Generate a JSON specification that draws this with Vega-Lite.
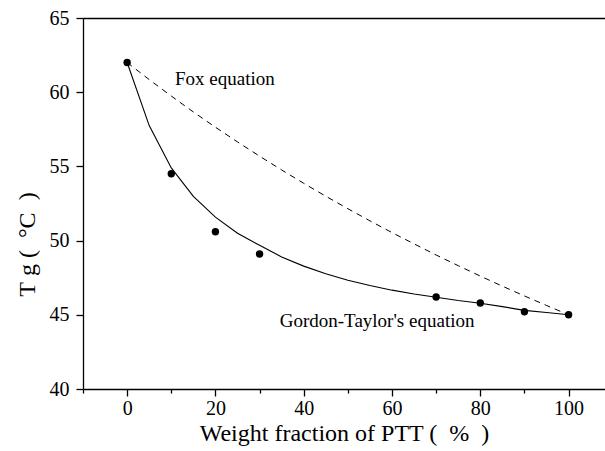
{
  "$schema": "https://vega.github.io/schema/vega-lite/v6.json",
  "width": 522,
  "height": 371,
  "autosize": {"type": "none"},
  "padding": {"left": 83, "top": 18, "right": 0, "bottom": 62},
  "background": "white",
  "config": {
    "view": {"stroke": null},
    "font": "Liberation Serif",
    "text": {"font": "Liberation Serif"},
    "axis": {
      "domainColor": "black",
      "domainWidth": 1.3,
      "tickColor": "black",
      "tickWidth": 1.3,
      "labelColor": "black",
      "titleColor": "black",
      "labelFont": "Liberation Serif",
      "titleFont": "Liberation Serif",
      "labelFontSize": 20,
      "titleFontSize": 24,
      "titleFontWeight": "normal",
      "grid": false
    }
  },
  "datasets": {
    "pts": [
      {"w": 0, "tg": 62.0},
      {"w": 10, "tg": 54.5},
      {"w": 20, "tg": 50.6},
      {"w": 30, "tg": 49.1},
      {"w": 70, "tg": 46.2},
      {"w": 80, "tg": 45.8},
      {"w": 90, "tg": 45.2},
      {"w": 100, "tg": 45.0}
    ],
    "gt": [
      {"w": 0, "tg": 62.0},
      {"w": 5, "tg": 57.75},
      {"w": 10, "tg": 54.9},
      {"w": 15, "tg": 52.98},
      {"w": 20, "tg": 51.58},
      {"w": 25, "tg": 50.5},
      {"w": 30, "tg": 49.68},
      {"w": 35, "tg": 48.9},
      {"w": 40, "tg": 48.28},
      {"w": 45, "tg": 47.77},
      {"w": 50, "tg": 47.33},
      {"w": 55, "tg": 46.97},
      {"w": 60, "tg": 46.66},
      {"w": 65, "tg": 46.4},
      {"w": 70, "tg": 46.18},
      {"w": 75, "tg": 45.96},
      {"w": 80, "tg": 45.78},
      {"w": 85, "tg": 45.55},
      {"w": 90, "tg": 45.3},
      {"w": 95, "tg": 45.15},
      {"w": 100, "tg": 45.0}
    ],
    "fox": [
      {"w": 0, "tg": 62.0},
      {"w": 5, "tg": 60.85},
      {"w": 10, "tg": 59.74},
      {"w": 15, "tg": 58.67},
      {"w": 20, "tg": 57.64},
      {"w": 25, "tg": 56.65},
      {"w": 30, "tg": 55.69},
      {"w": 35, "tg": 54.76},
      {"w": 40, "tg": 53.86},
      {"w": 45, "tg": 52.99},
      {"w": 50, "tg": 52.15},
      {"w": 55, "tg": 51.33},
      {"w": 60, "tg": 50.54},
      {"w": 65, "tg": 49.78},
      {"w": 70, "tg": 49.03},
      {"w": 75, "tg": 48.31},
      {"w": 80, "tg": 47.61},
      {"w": 85, "tg": 46.93},
      {"w": 90, "tg": 46.27},
      {"w": 95, "tg": 45.63},
      {"w": 100, "tg": 45.0}
    ],
    "labels": [
      {"label": "Fox equation", "w": 10.85, "tg": 60.47},
      {"label": "Gordon-Taylor's equation", "w": 34.57, "tg": 44.19}
    ]
  },
  "layer": [
    {
      "data": {"name": "fox"},
      "mark": {"type": "line", "color": "black", "strokeWidth": 1, "strokeDash": [6, 5], "clip": true},
      "encoding": {
        "x": {
          "field": "w", "type": "quantitative",
          "scale": {"domain": [-10, 108.25], "nice": false, "zero": false},
          "axis": {
            "orient": "bottom",
            "values": [-10, 0, 10, 20, 30, 40, 50, 60, 70, 80, 90, 100],
            "labelExpr": "datum.value % 20 === 0 ? datum.label : ''",
            "labelFont": "Liberation Serif",
            "tickSize": {"condition": {"test": "datum.value % 20 === 0", "value": 7}, "value": 4},
            "labelPadding": 2,
            "title": "Weight fraction of PTT (\u00a0\u00a0%\u00a0\u00a0)",
            "titlePadding": 3
          }
        },
        "y": {
          "field": "tg", "type": "quantitative",
          "scale": {"domain": [40, 65], "nice": false, "zero": false},
          "axis": {
            "values": [40, 42.5, 45, 47.5, 50, 52.5, 55, 57.5, 60, 62.5, 65],
            "labelExpr": "datum.value % 5 === 0 ? datum.label : ''",
            "labelFont": "Liberation Serif",
            "tickSize": {"condition": {"test": "datum.value % 5 === 0", "value": 7}, "value": 4},
            "labelPadding": 7,
            "title": "T\u00a0g (\u00a0\u00a0°C\u00a0\u00a0)",
            "titleY": 226,
            "titlePadding": 10
          }
        }
      }
    },
    {
      "data": {"name": "gt"},
      "mark": {"type": "line", "color": "black", "strokeWidth": 1.1, "clip": true},
      "encoding": {
        "x": {
          "field": "w", "type": "quantitative",
          "axis": {"orient": "top", "labels": false, "ticks": false, "title": null}
        },
        "y": {"field": "tg", "type": "quantitative"}
      }
    },
    {
      "data": {"name": "pts"},
      "mark": {"type": "point", "filled": true, "color": "black", "size": 55, "opacity": 1},
      "encoding": {
        "x": {"field": "w", "type": "quantitative", "axis": null},
        "y": {"field": "tg", "type": "quantitative"}
      }
    },
    {
      "data": {"name": "labels"},
      "mark": {"type": "text", "align": "left", "baseline": "alphabetic", "fontSize": 19, "font": "Liberation Serif", "color": "black"},
      "encoding": {
        "x": {"field": "w", "type": "quantitative", "axis": null},
        "y": {"field": "tg", "type": "quantitative"},
        "text": {"field": "label"}
      }
    }
  ],
  "resolve": {"axis": {"x": "independent"}}
}
